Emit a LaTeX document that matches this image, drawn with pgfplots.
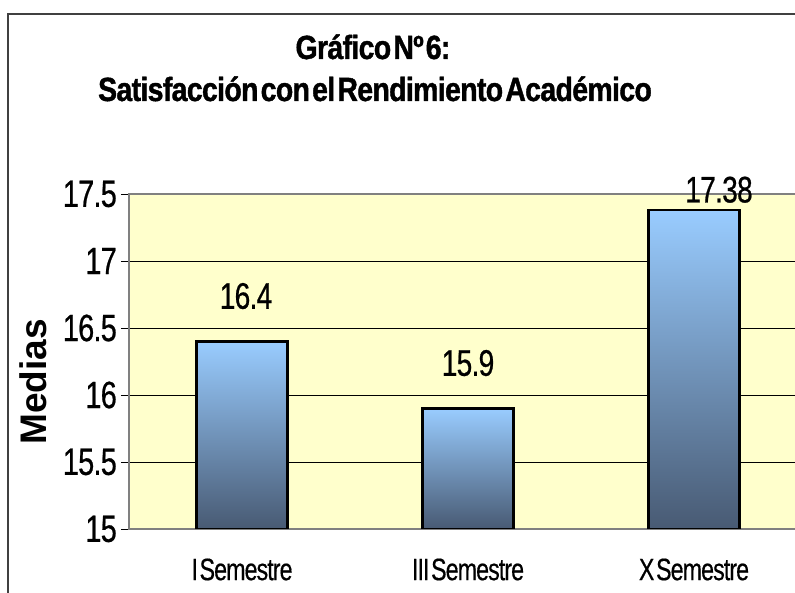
\documentclass[border=0pt]{standalone}
\usepackage{pgfplots}
\pgfplotsset{compat=1.18}
\usepackage{fontspec}
\setmainfont{Liberation Sans}
\newfontfamily\titlef[FakeStretch=0.85, LetterSpace=-2, WordSpace=0.3, FakeBold=1.2]{Liberation Sans}
\newfontfamily\tickf[FakeStretch=0.76, LetterSpace=-2, FakeBold=0.6]{Liberation Sans}
\newfontfamily\labf[FakeStretch=0.76, LetterSpace=-2, FakeBold=0.6]{Liberation Sans}
\newfontfamily\catf[FakeStretch=0.75, LetterSpace=-3, WordSpace=0.3, FakeBold=0.4]{Liberation Sans}
\definecolor{plotbg}{RGB}{255,255,204}
\definecolor{bartop}{RGB}{153,204,255}
\definecolor{barbot}{RGB}{72,90,115}
\definecolor{framecol}{RGB}{64,64,64}
\pgfplotsset{
  mybar/.style={ybar, bar shift=0pt, bar width=0.403, draw=black, line width=2.5pt,
    top color=bartop, bottom color=barbot, nodes near coords,
    every node near coord/.append style={font=\labf\fontsize{37}{40}\selectfont,
      anchor=south, inner sep=0pt, text=black}},
}
\begin{document}
\begin{tikzpicture}
\path[use as bounding box] (0pt,0pt) rectangle (795pt,593pt);
\clip (0pt,0pt) rectangle (795pt,593pt);
\draw[framecol, line width=1.5pt] (8pt,-20pt) rectangle (830pt,579pt);
\node[anchor=base, inner sep=0pt] at (373pt,534pt) {\titlef\bfseries\fontsize{33.5}{40}\selectfont Gráfico Nº 6:};
\node[anchor=base, inner sep=0pt] at (375pt,492pt) {\titlef\bfseries\fontsize{33.5}{40}\selectfont Satisfacción con el Rendimiento Académico};
\begin{axis}[
  at={(129pt,64pt)}, anchor=south west,
  scale only axis, width=678pt, height=335pt,
  xmin=0, xmax=3, ymin=15, ymax=17.5,
  axis background/.style={fill=plotbg},
  ytick={15,15.5,16,16.5,17,17.5},
  xtick={0.5,1.5,2.5},
  xticklabels={I Semestre, III Semestre, X Semestre},
  extra x ticks={1,2},
  extra x tick labels={},
  extra x tick style={major tick length=8pt, tick style={black, line width=0.8pt}, grid=none},
  major x tick style={draw=none},
  xtick pos=bottom, ytick pos=left,
  tick align=outside,
  major tick length=8pt,
  ymajorgrids,
  grid style={black, line width=0.8pt},
  ytick style={black, line width=0.8pt},
  axis line style={draw=gray, line width=1.8pt},
  /pgf/number format/assume math mode=true,
  yticklabel style={font=\tickf\fontsize{38}{40}\selectfont, inner sep=0pt, xshift=-4pt},
  xticklabel style={font=\catf\fontsize{31}{33}\selectfont, anchor=center, yshift=-32.5pt},
  ylabel={\bfseries\fontsize{37}{40}\selectfont Medias},
  ylabel style={at={(axis description cs:-0.121,0.439)}, anchor=base, inner sep=0pt},
]
\addplot[mybar, every node near coord/.append style={xshift=4pt, yshift=31pt}]
  coordinates {(0.5,16.4)};
\addplot[mybar, every node near coord/.append style={yshift=31pt}]
  coordinates {(1.5,15.9)};
\addplot[mybar, every node near coord/.append style={xshift=25pt, yshift=6pt}]
  coordinates {(2.5,17.38)};
\end{axis}
\end{tikzpicture}
\end{document}
